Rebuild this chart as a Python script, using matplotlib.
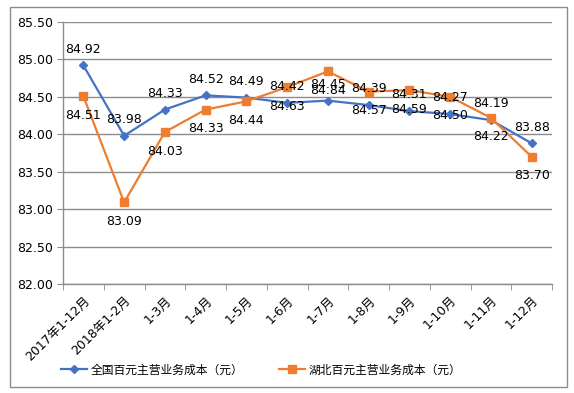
import matplotlib
matplotlib.use("Agg")
import matplotlib.pyplot as plt
from matplotlib.patches import Rectangle
import numpy as np

plt.rcParams['font.family'] = ['DejaVu Sans', 'Noto Sans CJK SC']

categories = ["2017年1-12月", "2018年1-2月", "1-3月", "1-4月", "1-5月", "1-6月",
              "1-7月", "1-8月", "1-9月", "1-10月", "1-11月", "1-12月"]
national = [84.92, 83.98, 84.33, 84.52, 84.49, 84.42, 84.45, 84.39, 84.31, 84.27, 84.19, 83.88]
hubei = [84.51, 83.09, 84.03, 84.33, 84.44, 84.63, 84.84, 84.57, 84.59, 84.50, 84.22, 83.70]
series_names = ["全国百元主营业务成本（元）", "湖北百元主营业务成本（元）"]
yticks = [82.00, 82.50, 83.00, 83.50, 84.00, 84.50, 85.00, 85.50]

blue = "#4472C4"
orange = "#ED7D31"
gray = "#8C8C8C"

fig = plt.figure(figsize=(5.74, 3.93), dpi=100)
fig.patches.append(Rectangle((10/574, 6/393), 557/574, 380/393, transform=fig.transFigure,
                             fill=False, edgecolor=gray, linewidth=1))
ax = fig.add_axes([63/574, 109/393, 489/574, 262/393])

x = np.arange(len(categories))
ax.plot(x, national, color=blue, lw=1.6, marker="D", markersize=4.5, label=series_names[0], zorder=3)
ax.plot(x, hubei, color=orange, lw=1.6, marker="s", markersize=5.5, label=series_names[1], zorder=3)

for xi, v in zip(x, national):
    ax.annotate(f"{v:.2f}", (xi, v), xytext=(0, 7), textcoords="offset points",
                ha="center", va="bottom", fontsize=9, zorder=4)
for xi, v in zip(x, hubei):
    ax.annotate(f"{v:.2f}", (xi, v), xytext=(0, -9), textcoords="offset points",
                ha="center", va="top", fontsize=9, zorder=4)

ax.set_xlim(-0.5, len(categories) - 0.5)
ax.set_ylim(82.0, 85.5)
ax.set_yticks(yticks)
ax.set_yticklabels([f"{t:.2f}" for t in yticks], fontsize=9)
ax.yaxis.grid(True, color=gray, lw=1)
ax.set_axisbelow(True)
ax.tick_params(axis="y", length=4, color=gray, pad=3)

ax.set_xticks(x)
ax.set_xticklabels(categories, rotation=45, ha="right", va="top", rotation_mode="anchor", fontsize=9)
ax.tick_params(axis="x", which="major", length=0, pad=7)
ax.set_xticks(np.arange(-0.5, len(categories), 1), minor=True)
ax.tick_params(axis="x", which="minor", length=4, color=gray)

for s in ["top", "right"]:
    ax.spines[s].set_visible(False)
for s in ["left", "bottom"]:
    ax.spines[s].set_color(gray)
    ax.spines[s].set_linewidth(1)

fig.legend(loc="center", bbox_to_anchor=(261/574, 23/393), ncol=2, frameon=False,
           fontsize=8.5, handlelength=2.2, columnspacing=3.0, handletextpad=0.3)

fig.savefig("out.png", dpi=100)
